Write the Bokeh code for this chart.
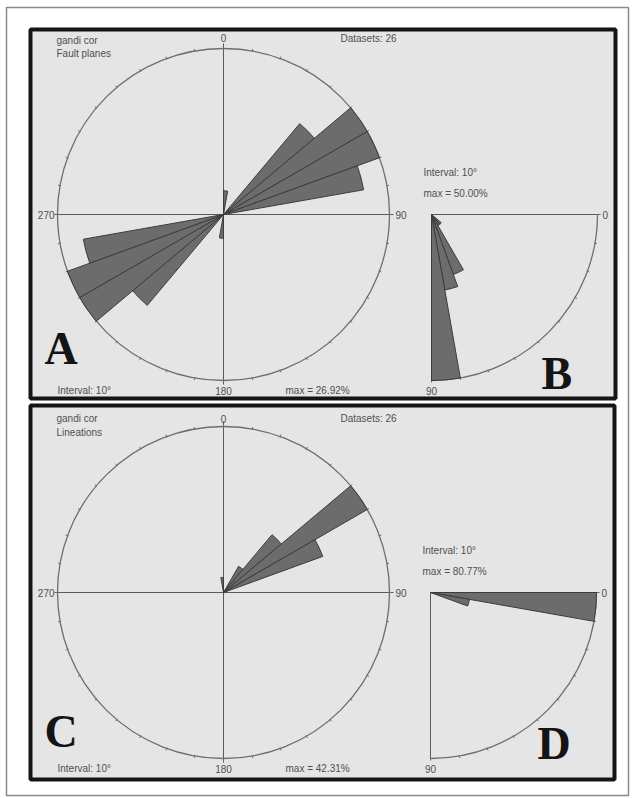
import numpy as np
from bokeh.plotting import figure
from bokeh.models import Range1d
from bokeh.embed import file_html
from bokeh.resources import INLINE
from bokeh.core.properties import value

# ---------------- data ----------------
datasets = 26
interval_deg = 10

# A: strike of fault planes (bidirectional rose), bin starts in degrees from north
fault_strike_bins = [0, 40, 50, 60, 70]
fault_strike_pct = [3.85, 19.23, 26.92, 26.92, 23.08]
fault_strike_max = 26.92

# B: dip of fault planes (quarter rose, 0 = horizontal, 90 = vertical)
fault_dip_bins = [40, 50, 60, 70, 80]
fault_dip_pct = [3.85, 3.85, 19.23, 23.08, 50.00]
fault_dip_max = 50.00

# C: trend of lineations (unidirectional rose)
lin_trend_bins = [30, 40, 50, 60, 350]
lin_trend_pct = [7.69, 19.23, 42.31, 26.92, 3.85]
lin_trend_max = 42.31

# D: plunge of lineations (quarter rose)
lin_plunge_bins = [0, 10]
lin_plunge_pct = [80.77, 19.23]
lin_plunge_max = 80.77

# ---------------- layout ----------------
W, H = 633, 798
R = 166
FONT = value("Liberation Sans")
SERIF = value("Liberation Serif")
TXT = "#505050"
BAR_FILL = "#6c6c6c"
BAR_EDGE = "#3c3c3c"
RING = "#6e6e6e"
AXIS = "#5a5a5a"


def sy(y):
    """screen-style y (down) to data y (up)"""
    return H - y


p = figure(width=W, height=H, x_range=Range1d(0, W), y_range=Range1d(0, H),
           output_backend="svg", toolbar_location=None, min_border=0)
p.axis.visible = False
p.grid.visible = False
p.outline_line_color = None
p.background_fill_color = "white"
p.border_fill_color = "white"

# outer thin border
p.quad(left=[6], right=[628], top=[sy(7)], bottom=[sy(795)],
       fill_color="white", line_color="#8a8a8a", line_width=1.5)

# two panels
p.quad(left=[30, 30], right=[615, 614], top=[sy(29), sy(405)], bottom=[sy(398), sy(779)],
       fill_color="#e5e5e5", line_color="#151515", line_width=4)


def label(x, y, t, align="left", size="10px", color=TXT):
    p.text(x=[x], y=[sy(y)], text=[t], text_font=FONT, text_font_size=size,
           text_color=color, text_align=align, text_baseline="middle")


def full_rose(cx, cy, bins, pct, vmax, bidirectional):
    # cross lines running out to the compass labels
    p.segment(x0=[cx, cx - R - 3], y0=[sy(cy - R - 5), sy(cy)],
              x1=[cx, cx + R + 4], y1=[sy(cy + R + 4), sy(cy)],
              line_color=AXIS, line_width=1)
    p.circle(x=[cx], y=[sy(cy)], radius=R, fill_color=None, line_color=RING, line_width=1.3)
    a = np.radians(np.arange(0, 360, 10))
    p.segment(x0=cx + (R - 1) * np.sin(a), y0=sy(cy) + (R - 1) * np.cos(a),
              x1=cx + (R + 2) * np.sin(a), y1=sy(cy) + (R + 2) * np.cos(a),
              line_color=RING, line_width=1)
    b = list(bins)
    v = list(pct)
    if bidirectional:
        b = b + [(x + 180) % 360 for x in bins]
        v = v + list(pct)
    b = np.array(b, dtype=float)
    v = np.array(v, dtype=float)
    p.wedge(x=[cx] * len(b), y=[sy(cy)] * len(b), radius=R * v / vmax,
            start_angle=np.radians(90 - (b + interval_deg)), end_angle=np.radians(90 - b),
            direction="anticlock", fill_color=BAR_FILL, line_color=BAR_EDGE, line_width=1)


def quarter_rose(cx, cy, bins, pct, vmax):
    p.segment(x0=[cx, cx], y0=[sy(cy), sy(cy)], x1=[cx + R + 3, cx], y1=[sy(cy), sy(cy + R + 1)],
              line_color=AXIS, line_width=1)
    p.arc(x=[cx], y=[sy(cy)], radius=R, start_angle=-np.pi / 2, end_angle=0,
          line_color=RING, line_width=1.3)
    a = np.radians(np.arange(0, 91, 10))
    p.segment(x0=cx + (R - 1) * np.cos(a), y0=sy(cy) - (R - 1) * np.sin(a),
              x1=cx + (R + 2) * np.cos(a), y1=sy(cy) - (R + 2) * np.sin(a),
              line_color=RING, line_width=1)
    b = np.array(bins, dtype=float)
    v = np.array(pct, dtype=float)
    p.wedge(x=[cx] * len(b), y=[sy(cy)] * len(b), radius=R * v / vmax,
            start_angle=np.radians(-(b + interval_deg)), end_angle=np.radians(-b),
            direction="anticlock", fill_color=BAR_FILL, line_color=BAR_EDGE, line_width=1)


# ---------- panel 1 : fault planes ----------
full_rose(223, 214, fault_strike_bins, fault_strike_pct, fault_strike_max, True)
quarter_rose(431, 214, fault_dip_bins, fault_dip_pct, fault_dip_max)

label(56, 40, "gandi cor")
label(56, 53, "Fault planes")
label(340, 38, f"Datasets: {datasets}")
label(223, 37, "0", "center")
label(54, 214, "270", "right")
label(395, 214, "90")
label(57, 390, f"Interval: {interval_deg}°")
label(223, 390, "180", "center")
label(285, 390, f"max = {fault_strike_max:.2f}%")
label(423, 172, f"Interval: {interval_deg}°")
label(423, 193, f"max = {fault_dip_max:.2f}%")
label(602, 214, "0")
label(431, 390, "90", "center")

# ---------- panel 2 : lineations ----------
full_rose(223, 592, lin_trend_bins, lin_trend_pct, lin_trend_max, False)
quarter_rose(430, 592, lin_plunge_bins, lin_plunge_pct, lin_plunge_max)

label(56, 418, "gandi cor")
label(56, 432, "Lineations")
label(340, 418, f"Datasets: {datasets}")
label(223, 418, "0", "center")
label(54, 592, "270", "right")
label(395, 592, "90")
label(57, 768, f"Interval: {interval_deg}°")
label(223, 768, "180", "center")
label(285, 768, f"max = {lin_trend_max:.2f}%")
label(422, 550, f"Interval: {interval_deg}°")
label(422, 571, f"max = {lin_plunge_max:.2f}%")
label(601, 592, "0")
label(430, 768, "90", "center")

# panel letters (y = vertical centre of the capital)
for x, y, t in [(44, 348, "A"), (541, 373, "B"), (44, 731, "C"), (537, 743, "D")]:
    p.text(x=[x], y=[sy(y)], text=[t], text_font=SERIF, text_font_size="46px",
           text_font_style="bold", text_color="#141414", text_align="left",
           text_baseline="middle")

open("out.html", "w").write(file_html(p, INLINE))
